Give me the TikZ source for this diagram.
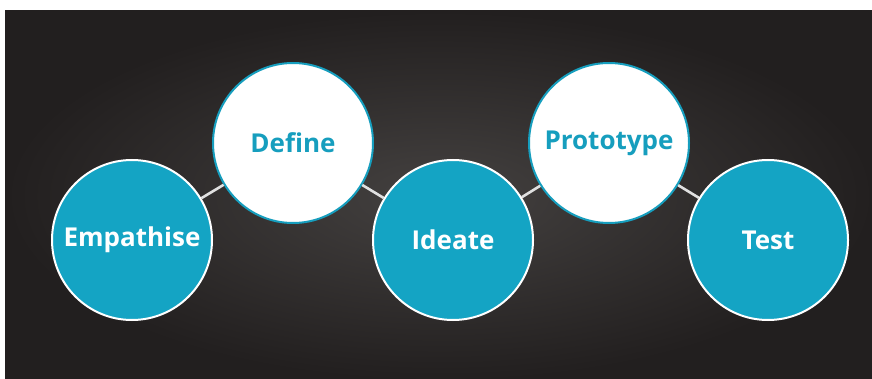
\documentclass[tikz,border=0pt]{standalone}
\usepackage{fontspec}
\setmainfont{Open Sans}
\usetikzlibrary{positioning}

\definecolor{teal}{RGB}{20,164,196}
\definecolor{tealtext}{RGB}{22,158,190}
\definecolor{boardedge}{RGB}{34,31,31}
\definecolor{boardmid}{RGB}{68,65,64}

\begin{document}
\begin{tikzpicture}[x=1pt,y=1pt,
    stage/.style={circle,minimum size=160pt,line width=2pt,font=\bfseries\fontsize{26}{30}\selectfont},
    tealstage/.style={stage,fill=teal,draw=white,text=white},
    whitestage/.style={stage,fill=white,draw=tealtext,text=tealtext},
    link/.style={line width=2.6pt,draw=white!88!black}]
    \useasboundingbox (0,0) rectangle (872,378);
    % chalkboard background
    \fill[white] (0,0) rectangle (872,378);
    \shade[inner color=boardmid,outer color=boardedge] (5,-3) rectangle (875,367);

    \node[tealstage] (empathise) at (132,138) {Empathise};
    \node[whitestage] (define) at (293,235) {Define};
    \node[tealstage] (ideate) at (453,138) {Ideate};
    \node[whitestage] (prototype) at (609,235) {Prototype};
    \node[tealstage] (test) at (768,138) {Test};

    \foreach \from/\to in {empathise/define,define/ideate,ideate/prototype,prototype/test}
    \draw[link] (\from) -- (\to);
\end{tikzpicture}
\end{document}
